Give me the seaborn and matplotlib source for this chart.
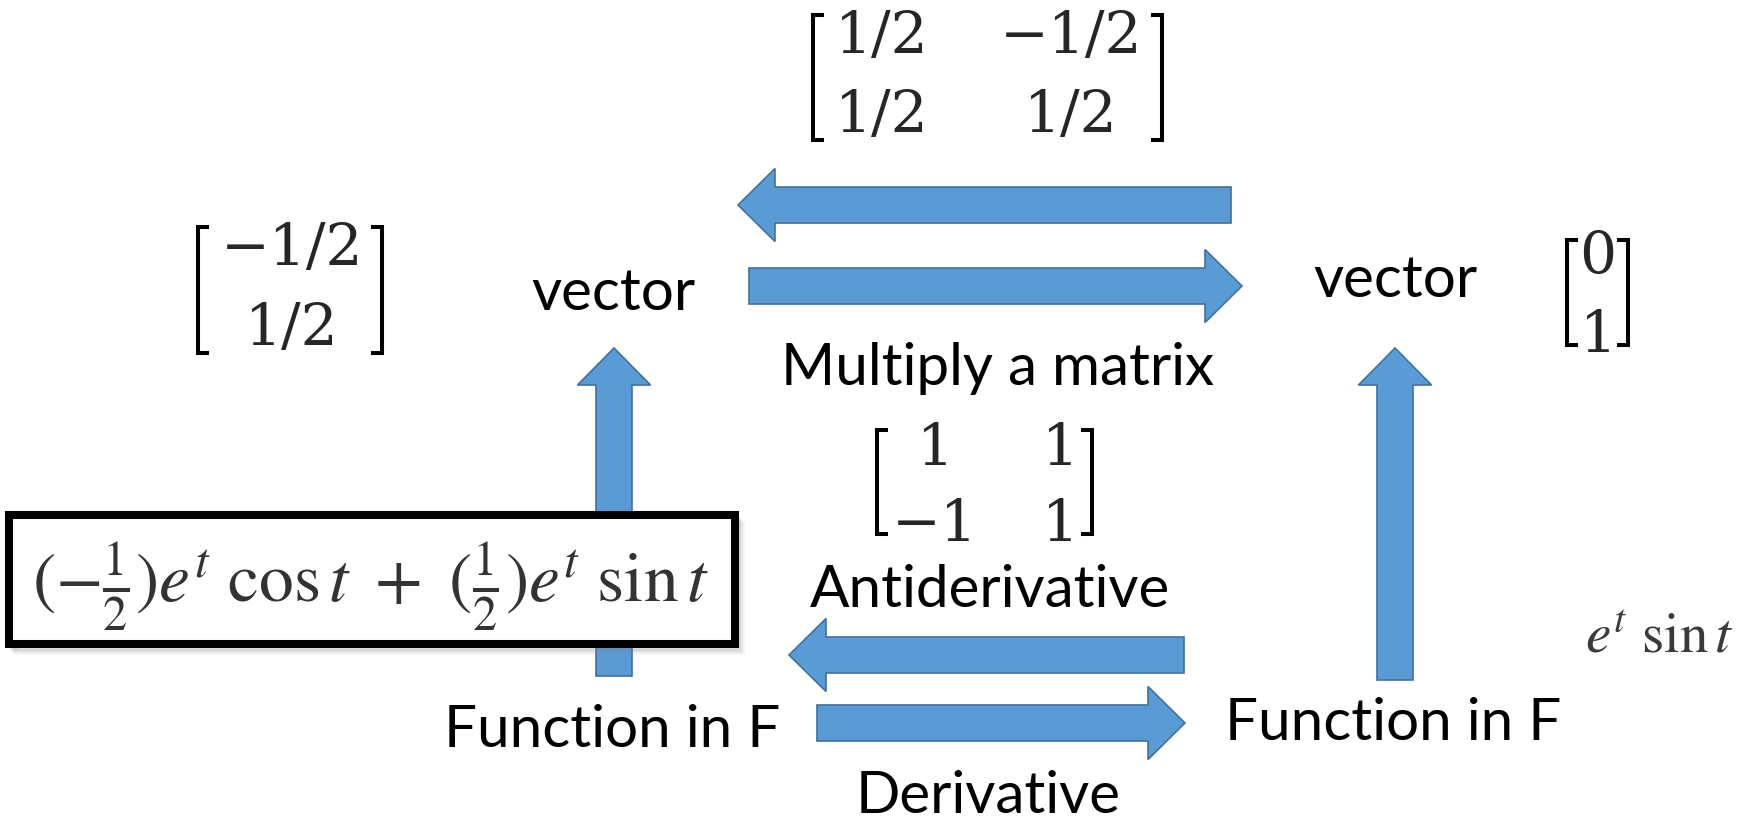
#!/usr/bin/env python3
from fractions import Fraction
import matplotlib
matplotlib.use("Agg")
import matplotlib.pyplot as plt
from matplotlib.patches import FancyArrow, Rectangle
import seaborn as sns

# matrix / vector entries
coord_to_func = [[Fraction(1, 2), Fraction(-1, 2)], [Fraction(1, 2), Fraction(1, 2)]]
func_to_coord = [[1, 1], [-1, 1]]
coords_in = [[Fraction(-1, 2)], [Fraction(1, 2)]]
coords_out = [[0], [1]]

node_labels = ["vector", "vector", "Function in F", "Function in F"]
edge_labels = ["Multiply a matrix", "Antiderivative", "Derivative"]
func_in = r"$(-\frac{1}{2})e^t\ \cos t\ +\ (\frac{1}{2})e^t\ \sin t$"
func_out = r"$e^t\ \sin t$"

BLUE = "#5B9BD5"
EDGE = "#41719C"
LABEL_FONT = ["Lato", "DejaVu Sans"]
MATRIX_FONT = ["DejaVu Serif"]


def fmt(v):
    return str(v).replace("-", "\u2212")


def arrow(ax, x0, y0, x1, y1):
    ax.add_patch(FancyArrow(x0, y0, x1 - x0, y1 - y0, width=36, head_width=73,
                            head_length=37, length_includes_head=True,
                            fc=BLUE, ec=EDGE, lw=1.2, zorder=1))


def matrix(ax, rows, cols_x, base_y, box, fs=42):
    left, right, top, bottom = box
    tick = 11
    for x, d in ((left, 1), (right, -1)):
        ax.plot([x + d * tick, x, x, x + d * tick], [top, top, bottom, bottom],
                color="black", lw=2.9, solid_joinstyle="miter",
                solid_capstyle="butt", zorder=4)
    for row, y in zip(rows, base_y):
        for v, x in zip(row, cols_x):
            ax.text(x, y, fmt(v), ha="center", va="baseline", fontsize=fs,
                    family=MATRIX_FONT, zorder=4)


def main():
    sns.set_theme(style="white")
    plt.rcParams["mathtext.fontset"] = "stix"
    plt.rcParams["font.family"] = LABEL_FONT

    fig = plt.figure(figsize=(17.48, 8.21), dpi=100)
    ax = fig.add_axes([0, 0, 1, 1])
    ax.set_xlim(0, 1748)
    ax.set_ylim(821, 0)
    ax.axis("off")

    # arrows
    arrow(ax, 1231, 205, 738, 205)
    arrow(ax, 749, 286, 1242, 286)
    arrow(ax, 1184, 655, 789, 655)
    arrow(ax, 817, 723, 1185, 723)
    arrow(ax, 614, 676, 614, 348)
    arrow(ax, 1395, 680, 1395, 348)

    # nodes
    for lab, x, y in zip(node_labels, [613, 1395, 612, 1393], [310, 297, 747, 740]):
        ax.text(x, y, lab, ha="center", va="baseline", fontsize=42, color="black")
    for lab, x, y in zip(edge_labels, [998, 990, 988], [385, 607, 813]):
        ax.text(x, y, lab, ha="center", va="baseline", fontsize=42, color="black")

    # matrices
    matrix(ax, coord_to_func, [882, 1071], [53, 132], (813, 1162, 15, 140))
    matrix(ax, func_to_coord, [935, 1060], [465, 541], (877, 1092, 430, 534))
    matrix(ax, coords_in, [292], [265, 345], (198, 382, 227, 353))
    matrix(ax, coords_out, [1598], [273, 352], (1567, 1628, 240, 345))

    # boxed function
    for k, a in enumerate([0.2, 0.13, 0.07]):
        ax.add_patch(Rectangle((9 + 4 + k * 2, 515 + 5 + k * 2), 726, 129,
                               fc="none", ec="gray", lw=3, alpha=a, zorder=2))
    ax.add_patch(Rectangle((9, 515), 726, 129, fc="white", ec="black", lw=5.8, zorder=3))
    ax.text(370, 603, func_in, ha="center", va="baseline", fontsize=50,
            color="#333333", zorder=4)
    ax.text(1659, 653, func_out, ha="center", va="baseline", fontsize=41,
            color="#3a3a3a", zorder=4)

    fig.savefig("out.png", dpi=100)


if __name__ == "__main__":
    main()
